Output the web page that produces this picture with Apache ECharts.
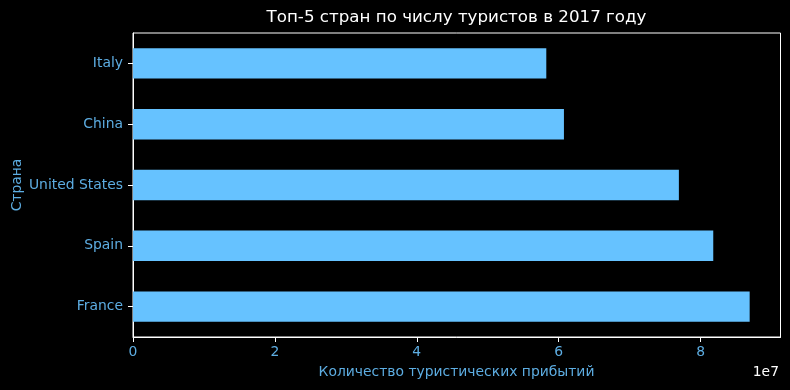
<!DOCTYPE html>
<html>
<head>
<meta charset="utf-8">
<script src="https://cdn.jsdelivr.net/npm/echarts@6/dist/echarts.min.js"></script>
<style>html,body{margin:0;padding:0;background:#000;}#c{width:790px;height:390px;}</style>
</head>
<body>
<div id="c"></div>
<script>
const countries = ['France', 'Spain', 'United States', 'China', 'Italy'];
const arrivals = [86918000, 81786000, 76941000, 60740000, 58253000];
const xTicks = [0, 20000000, 40000000, 60000000, 80000000];
const xMax = 91263900;

const FONT = '"DejaVu Sans", sans-serif';
const TXT = '#5dade2';
const chart = echarts.init(document.getElementById('c'), null, {renderer: 'canvas'});
chart.setOption({
  backgroundColor: '#000',
  animation: false,
  grid: {left: 133, right: 9.5, top: 33, bottom: 53, show: true, borderColor: '#fff', borderWidth: 1, backgroundColor: 'transparent'},
  xAxis: {
    type: 'value', min: 0, max: xMax,
    axisLine: {show: true, lineStyle: {color: '#fff', width: 1}},
    axisTick: {show: true, length: 5, lineStyle: {color: '#fff'}, customValues: xTicks},
    axisLabel: {color: TXT, fontFamily: FONT, fontSize: 13.9, margin: 8, customValues: xTicks,
      formatter: v => String(Math.round(v / 1e7))},
    splitLine: {show: false}
  },
  yAxis: {
    type: 'category', data: countries,
    axisLine: {show: true, lineStyle: {color: '#fff', width: 1}},
    axisTick: {show: true, length: 5, alignWithLabel: true, lineStyle: {color: '#fff'}},
    axisLabel: {color: TXT, fontFamily: FONT, fontSize: 13.9, margin: 10},
    splitLine: {show: false}
  },
  series: [{
    type: 'bar', data: arrivals, barWidth: '50%',
    itemStyle: {color: '#66c2ff'}
  }],
  graphic: [
    {type: 'text', x: 456.5, y: 18, style: {text: 'Топ-5 стран по числу туристов в 2017 году', fill: '#fff', font: '16.7px ' + FONT, textAlign: 'center', textVerticalAlign: 'middle'}},
    {type: 'text', x: 456.5, y: 372, style: {text: 'Количество туристических прибытий', fill: TXT, font: '13.9px ' + FONT, textAlign: 'center', textVerticalAlign: 'middle'}},
    {type: 'text', x: 779, y: 372, style: {text: '1e7', fill: '#fff', font: '13.9px ' + FONT, textAlign: 'right', textVerticalAlign: 'middle'}},
    {type: 'text', x: 17, y: 185, rotation: Math.PI / 2, style: {text: 'Страна', fill: TXT, font: '13.9px ' + FONT, textAlign: 'center', textVerticalAlign: 'middle'}}
  ]
});
</script>
</body>
</html>
